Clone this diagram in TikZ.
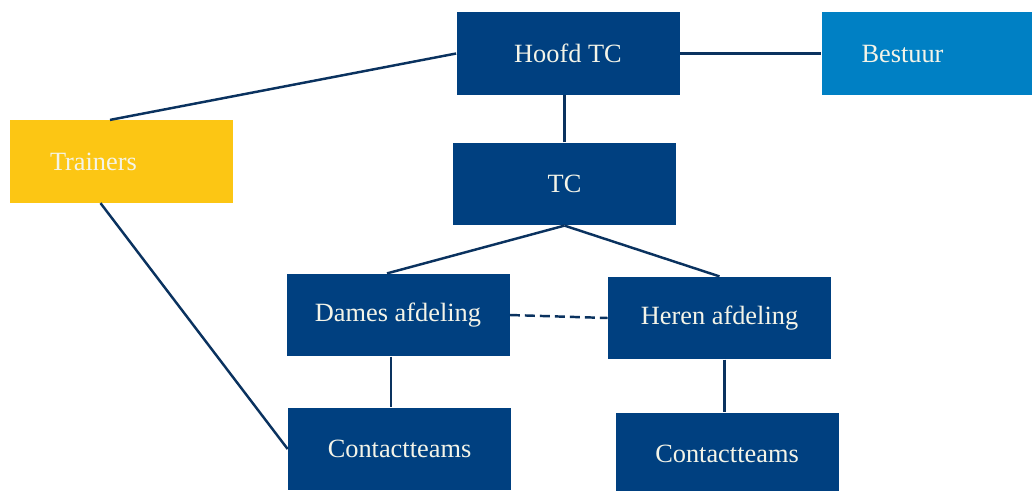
\documentclass[tikz,border=0pt]{standalone}
\usepackage{fontspec}
\setmainfont{Liberation Serif}
\definecolor{navy}{RGB}{0,64,128}
\definecolor{lightblue}{RGB}{0,128,196}
\definecolor{gold}{RGB}{252,198,20}
\definecolor{linecol}{RGB}{10,50,95}
\definecolor{boxtext}{RGB}{244,244,232}
\tikzset{
  unit/.style={fill=navy, text=boxtext, minimum width=4.46cm, minimum height=1.65cm,
    font=\fontsize{15}{18}\selectfont},
  sideunit/.style={unit, text width=2.86cm, inner xsep=0.8cm, align=left},
  link/.style={draw=linecol, line width=1.4pt}
}
\begin{document}
\begin{tikzpicture}
            \useasboundingbox (0,0) rectangle (20.64,9.8);

            \node[unit] (hoofd) at (11.36,8.73) {Hoofd TC};
            \node[sideunit, fill=lightblue] (bestuur) at (18.66,8.73) {Bestuur};
            \node[sideunit, fill=gold] (trainers) at (2.43,6.57) {Trainers};
            \node[unit] (tc) at (11.29,6.12) {TC};
            \node[unit] (dames) at (7.96,3.5) {Dames afdeling};
            \node[unit] (heren) at (14.39,3.44) {Heren afdeling};
            \node[unit] (ctdames) at (7.99,0.82) {Contactteams};
            \node[unit] (ctheren) at (14.54,0.72) {Contactteams};

            \draw[link] (hoofd.west) -- ([xshift=-0.23cm]trainers.north);
            \draw[link] (hoofd.east) -- (bestuur.west);
            \draw[link] (tc.north) -- (tc.north |- hoofd.south);
            \draw[link] (tc.south) -- ([xshift=-0.22cm]dames.north);
            \draw[link] (tc.south) -- (heren.north);
            \draw[link, dash pattern=on 0.2cm off 0.1cm] (dames.east) -- (heren.west);
            \draw[link] ([xshift=-0.14cm]dames.south) -- ([xshift=-0.14cm]dames.south |- ctdames.north);
            \draw[link] ([xshift=0.1cm]heren.south) -- ([xshift=0.1cm]heren.south |- ctheren.north);
            \draw[link] ([xshift=-0.42cm]trainers.south) -- (ctdames.west);
\end{tikzpicture}
\end{document}
